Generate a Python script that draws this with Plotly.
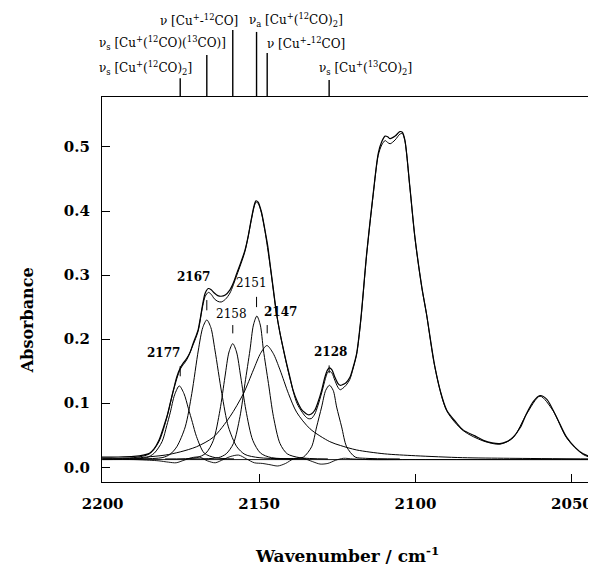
import plotly.graph_objects as go

# ---------------- data ----------------
spec_wn = [2200.5, 2195, 2190, 2187, 2185, 2183.5, 2182, 2180.5, 2179.4, 2178.4, 2177.3, 2176.3,
           2175.2, 2174.2, 2173.1, 2172, 2171.1, 2170, 2169.5, 2168.7, 2168, 2167.2, 2166.2,
           2165.3, 2164.3, 2163.2, 2162.1, 2160.8, 2159.3, 2158.2, 2157.1, 2155.8, 2154.5,
           2153.5, 2152.5, 2151.6, 2151, 2150.3, 2149.3, 2148.1, 2147.2, 2146.5, 2145.4,
           2144.4, 2143.3, 2142.2, 2141.2, 2140.1, 2139.1, 2137.8, 2136.4, 2135.3, 2134.3,
           2133.3, 2132.2, 2131.2, 2130.0, 2129.0, 2128.1, 2127.5, 2126.7, 2125.8, 2124.8,
           2124.1, 2123.3, 2122.2, 2121.0, 2120.0, 2118.8, 2117.5, 2115.6, 2113.5, 2111.9,
           2110.8, 2109.7, 2108.9, 2108.1, 2106.5, 2105.0, 2104.2, 2103.4, 2101.8, 2100.2,
           2098.0, 2096.5, 2093.8, 2092.0, 2090.0, 2087.0, 2084.7, 2081.0, 2078.3, 2075.5,
           2073.0, 2070.8, 2068.8, 2066.5, 2064.5, 2062.3, 2060.2, 2058.0, 2056.0, 2053.8,
           2051.7, 2049.0, 2046.4, 2042.3]
spec_abs = [0.016, 0.016, 0.017, 0.019, 0.022, 0.029, 0.042, 0.063, 0.080, 0.100, 0.122, 0.141,
            0.155, 0.163, 0.170, 0.180, 0.193, 0.207, 0.214, 0.235, 0.255, 0.272, 0.279,
            0.277, 0.272, 0.268, 0.267, 0.269, 0.277, 0.288, 0.303, 0.320, 0.339,
            0.360, 0.387, 0.408, 0.416, 0.414, 0.400, 0.370, 0.345, 0.318, 0.277,
            0.240, 0.209, 0.184, 0.162, 0.140, 0.120, 0.103, 0.090, 0.085, 0.082,
            0.083, 0.089, 0.101, 0.120, 0.140, 0.152, 0.155, 0.152, 0.141, 0.131,
            0.128, 0.129, 0.132, 0.140, 0.155, 0.178, 0.230, 0.334, 0.428, 0.490,
            0.508, 0.517, 0.516, 0.513, 0.517, 0.524, 0.523, 0.511, 0.438, 0.360,
            0.282, 0.240, 0.157, 0.118, 0.089, 0.070, 0.058, 0.049, 0.042, 0.038,
            0.037, 0.040, 0.047, 0.062, 0.084, 0.103, 0.112, 0.106, 0.089, 0.067,
            0.047, 0.031, 0.021, 0.014]

fit_wn = [2200.5, 2190, 2185, 2182, 2179.4, 2177.3, 2175.2, 2173.1, 2171.1, 2169.5, 2168,
          2167.2, 2166.2, 2165.3, 2164.3, 2163.2, 2162.1, 2160.8, 2159.3, 2157.1, 2154.5,
          2152.5, 2151.6, 2151, 2150.3, 2149.3, 2148.1, 2146.5, 2144.4, 2142.2, 2140.1,
          2137.8, 2135.3, 2134.3, 2133.3, 2132.2, 2131.2, 2130.0, 2128.1, 2127.5, 2126.7,
          2125.8, 2124.8, 2124.1, 2123.3, 2122.2, 2121.0, 2120.0, 2118.8, 2117.5, 2115.6,
          2113.5, 2111.9, 2110.8, 2109.7, 2108.9, 2108.1, 2106.5, 2105.0, 2104.2, 2103.4,
          2101.8, 2100.2, 2098.0, 2096.5, 2093.8, 2090.0, 2084.7, 2078.3, 2073.0, 2068.8,
          2064.5, 2060.2, 2056.0, 2051.7, 2046.4, 2042.3]
fit_abs = [0.014, 0.015, 0.021, 0.040, 0.079, 0.121, 0.153, 0.168, 0.191, 0.212, 0.252,
           0.267, 0.273, 0.270, 0.263, 0.259, 0.258, 0.262, 0.272, 0.300, 0.337,
           0.385, 0.406, 0.414, 0.412, 0.398, 0.368, 0.316, 0.239, 0.183, 0.138,
           0.099, 0.080, 0.076, 0.076, 0.083, 0.096, 0.116, 0.148, 0.150, 0.147,
           0.136, 0.125, 0.121, 0.123, 0.128, 0.137, 0.153, 0.176, 0.228, 0.332,
           0.426, 0.487, 0.503, 0.510, 0.507, 0.505, 0.511, 0.520, 0.521, 0.510,
           0.437, 0.359, 0.281, 0.240, 0.156, 0.088, 0.057, 0.041, 0.036, 0.046,
           0.083, 0.111, 0.088, 0.046, 0.020, 0.013]

band_positions = [2175.2, 2166.7, 2158.4, 2150.8, 2147.4, 2127.6]
band_labels = ["2177", "2167", "2158", "2151", "2147", "2128"]

c2177_wn = [2192, 2186, 2183.5, 2181, 2179.5, 2178.4, 2177, 2175.5, 2174, 2172.6, 2171.3, 2170,
            2167.5, 2164, 2158]
c2177_abs = [0.013, 0.015, 0.022, 0.040, 0.065, 0.085, 0.113, 0.127, 0.115, 0.092, 0.070, 0.048,
             0.022, 0.015, 0.013]

c2167_wn = [2190, 2181, 2178.5, 2176.3, 2173.6, 2171.5, 2169.4, 2168, 2166.7, 2165.4, 2164.1,
            2161.9, 2159.8, 2157.1, 2154.5, 2150, 2140]
c2167_abs = [0.013, 0.015, 0.020, 0.032, 0.063, 0.115, 0.183, 0.218, 0.230, 0.218, 0.183,
             0.115, 0.063, 0.032, 0.020, 0.015, 0.013]

c2158_wn = [2180, 2170, 2167, 2164.6, 2162.5, 2160.9, 2159.6, 2158.4, 2157.2, 2155.85, 2154.2,
            2152.0, 2149.5, 2146, 2135]
c2158_abs = [0.013, 0.015, 0.022, 0.042, 0.089, 0.141, 0.180, 0.193, 0.180, 0.141, 0.089,
             0.042, 0.022, 0.015, 0.013]

c2151_wn = [2172, 2163, 2160.5, 2158.2, 2156.1, 2154.5, 2152.9, 2151.8, 2150.7, 2149.6, 2148.6,
            2147.0, 2145.4, 2143.3, 2141, 2137, 2128]
c2151_abs = [0.013, 0.015, 0.021, 0.037, 0.079, 0.131, 0.183, 0.222, 0.236, 0.222, 0.183,
             0.131, 0.079, 0.037, 0.021, 0.015, 0.013]

c2147_wn = [2200, 2190, 2185.9, 2180, 2175.2, 2170, 2164.6, 2159.3, 2155.0, 2151.8, 2149.5,
            2147.5, 2145.5, 2143.3, 2140.6, 2138.0, 2133.7, 2127.4, 2124, 2118.8, 2110,
            2100, 2085, 2070, 2042]
c2147_abs = [0.013, 0.014, 0.016, 0.019, 0.024, 0.032, 0.047, 0.079, 0.115, 0.152, 0.178,
             0.190, 0.178, 0.152, 0.115, 0.086, 0.060, 0.040, 0.034, 0.027, 0.021,
             0.018, 0.015, 0.014, 0.013]

c2128_wn = [2145, 2138, 2135.8, 2133.2, 2131.6, 2130.0, 2128.7, 2127.5, 2126.3, 2125.2, 2123.6,
            2122.0, 2119.3, 2116, 2105]
c2128_abs = [0.013, 0.014, 0.016, 0.032, 0.063, 0.094, 0.120, 0.128, 0.120, 0.094, 0.063,
             0.032, 0.016, 0.014, 0.013]

resid_wn = [2200, 2190, 2185, 2182, 2179, 2176.5, 2174, 2171.5, 2169, 2166.5, 2164, 2161.5,
            2159, 2156.5, 2154, 2151.5, 2149, 2146.5, 2144, 2141.5, 2139, 2136, 2133, 2130.5,
            2128, 2125.5, 2123, 2120, 2115, 2100, 2042]
resid_abs = [0.012, 0.012, 0.011, 0.010, 0.008, 0.007, 0.011, 0.015, 0.016, 0.010, 0.007, 0.012,
             0.017, 0.019, 0.013, 0.007, 0.006, 0.004, 0.002, 0.006, 0.013, 0.014, 0.009, 0.005,
             0.006, 0.011, 0.014, 0.013, 0.012, 0.012, 0.012]

base_wn = [2200.5, 2042.3]
base_abs = [0.012, 0.012]

x_ticks = [2200, 2150, 2100, 2050]
y_ticks = [0.0, 0.1, 0.2, 0.3, 0.4, 0.5]

# ---------------- figure ----------------
fig = go.Figure()

def add(x, y, w=1.0):
    fig.add_trace(go.Scatter(x=x, y=y, mode="lines",
                             line=dict(color="black", width=w, shape="spline", smoothing=0.8),
                             hoverinfo="skip", showlegend=False))

add(base_wn, base_abs, 0.9)
add(resid_wn, resid_abs, 0.9)
for cx, cy in [(c2177_wn, c2177_abs), (c2167_wn, c2167_abs), (c2158_wn, c2158_abs),
               (c2151_wn, c2151_abs), (c2147_wn, c2147_abs), (c2128_wn, c2128_abs)]:
    add(cx, cy, 1.0)
add(fit_wn, fit_abs, 1.0)
add(spec_wn, spec_abs, 1.2)

serif = "DejaVu Serif"

# top band-assignment lines
top_heights = [1.049, 1.109, 1.174, 1.169, 1.114, 1.044]
for bx, h in zip(band_positions, top_heights):
    fig.add_shape(type="line", xref="x", yref="paper", x0=bx, x1=bx, y0=1.0, y1=h,
                  line=dict(color="black", width=1.4))

top_labels = [
    ("ν [Cu<sup>+</sup>-<sup>12</sup>CO]", 0.279, 1.200, "right"),
    ("ν<sub>a</sub> [Cu<sup>+</sup>(<sup>12</sup>CO)<sub>2</sub>]", 0.293, 1.200, "left"),
    ("ν<sub>s</sub> [Cu<sup>+</sup>(<sup>12</sup>CO)(<sup>13</sup>CO)]", -0.010, 1.140, "left"),
    ("ν [Cu<sup>+</sup>-<sup>12</sup>CO]", 0.330, 1.140, "left"),
    ("ν<sub>s</sub> [Cu<sup>+</sup>(<sup>12</sup>CO)<sub>2</sub>]", -0.010, 1.075, "left"),
    ("ν<sub>s</sub> [Cu<sup>+</sup>(<sup>13</sup>CO)<sub>2</sub>]", 0.435, 1.075, "left"),
]
for txt, px, py, anc in top_labels:
    fig.add_annotation(text=txt, xref="paper", yref="paper", x=px, y=py, xanchor=anc,
                       yanchor="middle", showarrow=False,
                       font=dict(family=serif, size=12, color="black"))

# peak labels with small tick marks
label_xy = [(2180.6, 0.178, "bold"), (2171.0, 0.297, "bold"), (2158.7, 0.240, "normal"),
            (2152.3, 0.287, "normal"), (2143.3, 0.243, "bold"), (2127.1, 0.180, "bold")]
tick_y = [(0.142, 0.158), (0.245, 0.261), (0.209, 0.222), (0.250, 0.266), (0.209, 0.222),
          (0.147, 0.159)]
for lab, (lx, ly, wt), bx, (ty0, ty1) in zip(band_labels, label_xy, band_positions, tick_y):
    fig.add_annotation(text=lab, x=lx, y=ly, xref="x", yref="y", showarrow=False,
                       font=dict(family=serif, size=12, color="black", weight=wt))
    fig.add_shape(type="line", xref="x", yref="y", x0=bx, x1=bx, y0=ty0, y1=ty1,
                  line=dict(color="black", width=1))

# axis titles
fig.add_annotation(text="Absorbance", xref="paper", yref="paper", x=-0.152, y=0.42,
                   textangle=-90, showarrow=False, xanchor="center", yanchor="middle",
                   font=dict(family=serif, size=16, color="black", weight="bold"))
fig.add_annotation(text="Wavenumber / cm<sup>-1</sup>", xref="paper", yref="paper",
                   x=0.496, y=-0.19, showarrow=False, xanchor="center", yanchor="middle",
                   font=dict(family=serif, size=17, color="black", weight="bold"))

fig.update_xaxes(range=[2200.2, 2042.3], tickvals=x_ticks, ticktext=[str(v) for v in x_ticks],
                 ticks="inside", ticklen=8, tickwidth=1, tickcolor="black",
                 showline=True, linecolor="black", linewidth=1.2, mirror=True,
                 showgrid=False, zeroline=False, ticklabelstandoff=8, automargin=False,
                 tickfont=dict(family=serif, size=15, color="black", weight="bold"))
fig.update_yaxes(range=[-0.023, 0.578], tickvals=y_ticks, ticktext=[f"{v:.1f}" for v in y_ticks],
                 ticks="inside", ticklen=8, tickwidth=1, tickcolor="black",
                 showline=True, linecolor="black", linewidth=1.2, mirror=False,
                 showgrid=False, zeroline=False, ticklabelstandoff=8, automargin=False,
                 tickfont=dict(family=serif, size=15, color="black", weight="bold"))

# the page body adds an 8px offset, so the figure is 8px smaller than the window
fig.update_layout(width=588, height=559, margin=dict(l=94, r=0, t=89, b=85, autoexpand=False),
                  paper_bgcolor="white", plot_bgcolor="white", showlegend=False)

fig.write_html("out.html")
